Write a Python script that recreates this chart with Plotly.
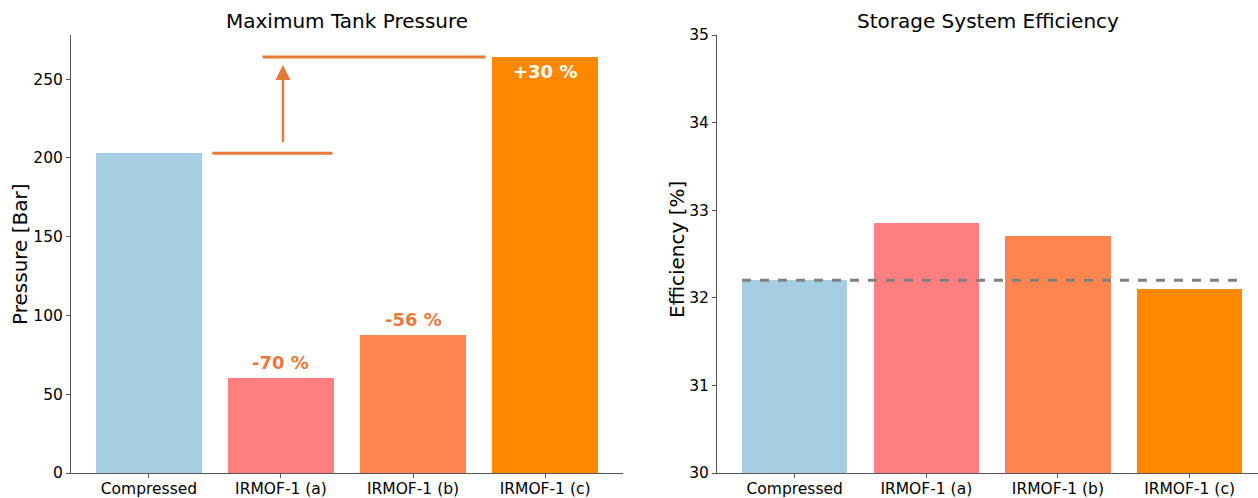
import plotly.graph_objects as go

categories = ["Compressed", "IRMOF-1 (a)", "IRMOF-1 (b)", "IRMOF-1 (c)"]
pressure = [203, 60.5, 87.5, 264]
efficiency = [32.2, 32.85, 32.7, 32.1]
pressure_labels = ["", "-70 %", "-56 %", "+30 %"]
colors = ["#A6CEE3", "#FF7F7F", "#FF8550", "#FF8800"]
accent = "#E8793A"
FONT = "DejaVu Sans"
W, H = 1258, 498
TOP, BOT = 35, 473  # plot area in pixels
PH = BOT - TOP


def py(pix):
    return (BOT - pix) / PH


fig = go.Figure()
fig.add_trace(go.Bar(x=list(range(4)), y=pressure, marker=dict(color=colors, line=dict(width=0)),
                     width=0.8, xaxis="x", yaxis="y", showlegend=False, hoverinfo="skip"))
fig.add_trace(go.Bar(x=list(range(4)), y=[v - 30 for v in efficiency], base=30,
                     marker=dict(color=colors, line=dict(width=0)),
                     width=0.8, xaxis="x2", yaxis="y2", showlegend=False, hoverinfo="skip"))

# dashed baseline efficiency
fig.add_trace(go.Scatter(x=[-0.4, 3.4], y=[efficiency[0]] * 2, mode="lines",
                         line=dict(color="#808080", width=3, dash="dash"),
                         xaxis="x2", yaxis="y2", showlegend=False, hoverinfo="skip"))

# reference lines for pressure
fig.add_trace(go.Scatter(x=[0.48, 1.39], y=[pressure[0]] * 2, mode="lines",
                         line=dict(color=accent, width=3), xaxis="x", yaxis="y",
                         showlegend=False, hoverinfo="skip"))
fig.add_trace(go.Scatter(x=[0.86, 2.55], y=[pressure[3]] * 2, mode="lines",
                         line=dict(color=accent, width=3), xaxis="x", yaxis="y",
                         showlegend=False, hoverinfo="skip"))

ann = []
ann.append(dict(x=1.015, y=pressure[3] - 5, ax=1.015, ay=pressure[0] + 6, xref="x", yref="y",
                axref="x", ayref="y", showarrow=True, arrowhead=2, arrowsize=1.2, arrowwidth=2.5,
                arrowcolor=accent, text=""))
for i in (1, 2):
    ann.append(dict(x=i, y=pressure[i], xref="x", yref="y", text="<b>" + pressure_labels[i] + "</b>",
                    showarrow=False, yanchor="bottom", yshift=3,
                    font=dict(family=FONT, size=18, color=accent)))
ann.append(dict(x=3, y=pressure[3], xref="x", yref="y", text="<b>" + pressure_labels[3] + "</b>",
                showarrow=False, yanchor="top", yshift=-2, font=dict(family=FONT, size=18, color="white")))

ann.append(dict(x=347 / W, y=py(21), xref="paper", yref="paper", text="Maximum Tank Pressure",
                xanchor="center", yanchor="middle", showarrow=False,
                font=dict(family=FONT, size=20, color="black")))
ann.append(dict(x=988 / W, y=py(21), xref="paper", yref="paper", text="Storage System Efficiency",
                xanchor="center", yanchor="middle", showarrow=False,
                font=dict(family=FONT, size=20, color="black")))
ann.append(dict(x=20 / W, y=py(254), xref="paper", yref="paper", text="Pressure [Bar]",
                xanchor="center", yanchor="middle", textangle=-90, showarrow=False,
                font=dict(family=FONT, size=20, color="black")))
ann.append(dict(x=677 / W, y=py(250), xref="paper", yref="paper", text="Efficiency [%]",
                xanchor="center", yanchor="middle", textangle=-90, showarrow=False,
                font=dict(family=FONT, size=20, color="black")))

axis_common = dict(showline=True, linecolor="#555555", linewidth=1, ticks="outside", ticklen=4,
                   tickcolor="#555555", showgrid=False, zeroline=False, automargin=False,
                   tickfont=dict(family=FONT, size=15.5, color="black"))

fig.update_layout(
    width=W, height=H, paper_bgcolor="white", plot_bgcolor="white",
    margin=dict(l=0, r=0, t=TOP, b=H - BOT, pad=0),
    bargap=0,
    annotations=ann,
    xaxis=dict(domain=[71 / W, 623 / W], range=[-0.59, 3.59], tickvals=list(range(4)),
               ticktext=categories, anchor="y", ticklabelstandoff=-3, **axis_common),
    yaxis=dict(domain=[0, 1], range=[0, 278], tickvals=[0, 50, 100, 150, 200, 250], anchor="x",
               **axis_common),
    xaxis2=dict(domain=[717 / W, 1.0], range=[-0.59, 3.52], tickvals=list(range(4)),
                ticktext=categories, anchor="y2", ticklabelstandoff=-3, **axis_common),
    yaxis2=dict(domain=[0, 1], range=[30, 35], tickvals=[30, 31, 32, 33, 34, 35], anchor="x2",
                **axis_common),
)

fig.write_html("out.html", config={"displayModeBar": False},
               post_script="document.body.style.margin='0';document.body.style.padding='0';")
